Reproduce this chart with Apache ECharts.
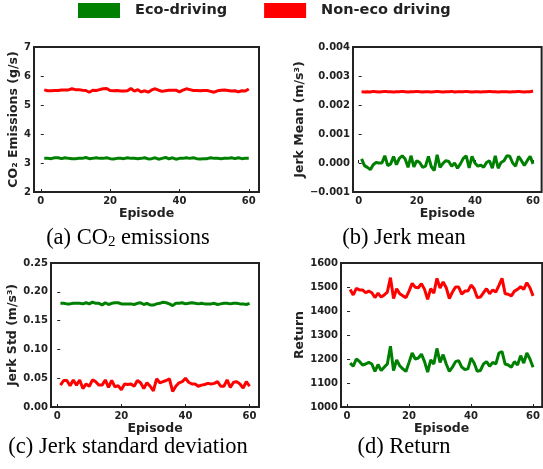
<!DOCTYPE html>
<html>
<head>
<meta charset="utf-8">
<script src="https://cdn.jsdelivr.net/npm/echarts@6/dist/echarts.min.js"></script>
<style>
  html, body { margin: 0; padding: 0; background: #fff; }
  #chart { width: 543px; height: 469px; }
</style>
</head>
<body>
<div id="chart"></div>
<script>
// series values (episodes 1..60)
var co2Eco = [3.16, 3.16, 3.15, 3.18, 3.18, 3.15, 3.18, 3.16, 3.15, 3.15,
  3.16, 3.16, 3.19, 3.15, 3.16, 3.18, 3.16, 3.16, 3.18, 3.15,
  3.14, 3.16, 3.16, 3.15, 3.18, 3.16, 3.16, 3.15, 3.16, 3.18,
  3.14, 3.15, 3.18, 3.13, 3.16, 3.19, 3.14, 3.18, 3.13, 3.16,
  3.16, 3.18, 3.16, 3.18, 3.15, 3.14, 3.15, 3.15, 3.18, 3.16,
  3.16, 3.15, 3.16, 3.16, 3.18, 3.15, 3.18, 3.15, 3.16, 3.16];
var co2NonEco = [5.52, 5.49, 5.49, 5.50, 5.50, 5.52, 5.52, 5.52, 5.56, 5.53,
  5.53, 5.51, 5.50, 5.44, 5.51, 5.50, 5.53, 5.56, 5.57, 5.50,
  5.49, 5.50, 5.48, 5.48, 5.49, 5.57, 5.48, 5.53, 5.45, 5.49,
  5.44, 5.52, 5.56, 5.51, 5.47, 5.49, 5.51, 5.51, 5.51, 5.45,
  5.51, 5.56, 5.53, 5.50, 5.50, 5.49, 5.50, 5.50, 5.47, 5.44,
  5.49, 5.51, 5.52, 5.50, 5.48, 5.49, 5.45, 5.49, 5.48, 5.55];
var jerkMeanEco = [0.00014, -0.00009, -0.00015, -0.00023, -0.00006, 0.00002, 0.0, 0.0, 0.00025, -0.00009,
  -0.00003, 0.00022, -0.00006, 0.00016, 0.00025, 0.00014, -0.00015, 0.00025, -0.00013, 0.00008,
  0.00002, -0.00015, -0.00011, 0.00023, -0.00013, -0.00026, 0.00028, -0.00015, -0.00001, 0.00008,
  0.00005, -0.00011, 0.0, -0.00018, -0.00003, 0.00016, 0.00025, -0.00017, 0.00023, 0.0,
  -0.00011, -0.00007, -0.00015, 0.00002, 0.00008, -0.00018, 0.00025, -0.00018, 0.00002, 0.00008,
  0.00025, 0.00023, 0.0, -0.00011, 0.00023, 0.00008, -0.00009, 0.00008, 0.00023, -0.00003];
var jerkMeanNonEco = [0.00246, 0.00245, 0.00246, 0.00245, 0.00247, 0.00246, 0.00245, 0.00246, 0.00247, 0.00246,
  0.00246, 0.00245, 0.00246, 0.00246, 0.00247, 0.00246, 0.00245, 0.00246, 0.00246, 0.00247,
  0.00246, 0.00245, 0.00246, 0.00246, 0.00245, 0.00246, 0.00247, 0.00246, 0.00245, 0.00246,
  0.00246, 0.00247, 0.00245, 0.00246, 0.00246, 0.00246, 0.00247, 0.00246, 0.00245, 0.00246,
  0.00246, 0.00245, 0.00246, 0.00246, 0.00247, 0.00246, 0.00246, 0.00245, 0.00246, 0.00246,
  0.00246, 0.00245, 0.00246, 0.00246, 0.00247, 0.00246, 0.00245, 0.00246, 0.00246, 0.00248];
var jerkStdEco = [0.180, 0.180, 0.179, 0.179, 0.180, 0.180, 0.180, 0.179, 0.181, 0.179,
  0.182, 0.180, 0.180, 0.177, 0.181, 0.178, 0.180, 0.181, 0.181, 0.179,
  0.179, 0.179, 0.179, 0.178, 0.180, 0.181, 0.178, 0.180, 0.177, 0.177,
  0.179, 0.180, 0.182, 0.181, 0.179, 0.176, 0.180, 0.180, 0.181, 0.179,
  0.180, 0.181, 0.180, 0.179, 0.180, 0.179, 0.179, 0.179, 0.180, 0.178,
  0.179, 0.180, 0.180, 0.179, 0.180, 0.180, 0.179, 0.179, 0.178, 0.180];
var jerkStdNonEco = [0.038, 0.046, 0.046, 0.037, 0.047, 0.038, 0.047, 0.032, 0.040, 0.036,
  0.047, 0.044, 0.038, 0.038, 0.047, 0.034, 0.046, 0.035, 0.037, 0.030,
  0.040, 0.039, 0.040, 0.036, 0.046, 0.042, 0.032, 0.042, 0.036, 0.028,
  0.049, 0.042, 0.044, 0.046, 0.049, 0.027, 0.036, 0.042, 0.044, 0.050,
  0.043, 0.040, 0.040, 0.036, 0.038, 0.039, 0.041, 0.040, 0.041, 0.044,
  0.036, 0.036, 0.047, 0.034, 0.043, 0.044, 0.040, 0.033, 0.044, 0.036];
var returnEco = [1183, 1170, 1200, 1190, 1175, 1179, 1186, 1179, 1148, 1177,
  1152, 1166, 1179, 1253, 1152, 1196, 1172, 1159, 1148, 1186,
  1225, 1200, 1204, 1220, 1189, 1145, 1196, 1179, 1244, 1186,
  1218, 1179, 1148, 1166, 1189, 1193, 1166, 1156, 1159, 1204,
  1183, 1149, 1152, 1179, 1189, 1170, 1186, 1179, 1225, 1231,
  1179, 1175, 1166, 1189, 1175, 1214, 1183, 1225, 1200, 1166];
var returnNonEco = [1490, 1467, 1494, 1488, 1488, 1476, 1483, 1476, 1456, 1474,
  1458, 1467, 1479, 1539, 1452, 1493, 1472, 1463, 1456, 1483,
  1515, 1499, 1497, 1514, 1490, 1449, 1493, 1474, 1536, 1496,
  1521, 1497, 1452, 1479, 1500, 1500, 1470, 1483, 1483, 1508,
  1493, 1456, 1458, 1476, 1493, 1472, 1488, 1479, 1507, 1536,
  1472, 1470, 1463, 1483, 1490, 1501, 1490, 1518, 1497, 1463];

var xTicks = [0, 20, 40, 60];
var seriesNames = ["Eco-driving", "Non-eco driving"];
var captions = ["(a) CO", "(b) Jerk mean", "(c) Jerk standard deviation", "(d) Return"];

var myChart = echarts.init(document.getElementById("chart"));

var sans = "DejaVu Sans";
var dark = "#222";

function pairs(arr) {
  return arr.map(function(v, i) {
    return [i + 1, v];
  });
}

// panel frames (pixels)
var grids = [
  { left: 34, top: 47, width: 225, height: 145 },
  { left: 353, top: 47, width: 189.5, height: 145 },
  { left: 51, top: 263, width: 208, height: 144 },
  { left: 341, top: 263, width: 201.5, height: 144 }
];
var xRange = [-1.95, 62.95];
var yConf = [
  { min: 2, max: 7, interval: 1, name: "CO\u2082 Emissions (g/s)", gap: 13, fmt: function(v) { return v.toFixed(0); } },
  { min: -0.001, max: 0.004, interval: 0.001, name: "Jerk Mean (m/s\u00b3)", gap: 46, fmt: function(v) { return v.toFixed(3).replace("-", "\u2212"); } },
  { min: 0, max: 0.25, interval: 0.05, name: "Jerk Std (m/s\u00b3)", gap: 31, fmt: function(v) { return v.toFixed(2); } },
  { min: 1000, max: 1600, interval: 100, name: "Return", gap: 33, fmt: function(v) { return v.toFixed(0); } }
];
var data = [
  [co2Eco, co2NonEco],
  [jerkMeanEco, jerkMeanNonEco],
  [jerkStdEco, jerkStdNonEco],
  [returnEco, returnNonEco]
];
var colors = ["#008000", "#ff0000"];

var option = {
  backgroundColor: "#fff",
  animation: false,
  legend: {
    data: seriesNames,
    icon: "rect",
    left: 78,
    top: 3,
    padding: 0,
    itemWidth: 42,
    itemHeight: 15,
    itemGap: 37,
    textStyle: {
      fontFamily: sans,
      fontWeight: "bold",
      fontSize: 14.5,
      color: dark,
      padding: [0, 0, 0, 10]
    }
  },
  grid: [],
  xAxis: [],
  yAxis: [],
  series: [],
  graphic: []
};

for (var i = 0; i < 4; i++) {
  option.grid.push({
    left: grids[i].left,
    top: grids[i].top,
    width: grids[i].width,
    height: grids[i].height,
    show: true,
    borderColor: dark,
    borderWidth: 2,
    backgroundColor: "#fff"
  });
  option.xAxis.push({
    gridIndex: i,
    type: "value",
    min: xRange[0],
    max: xRange[1],
    name: "Episode",
    nameLocation: "middle",
    nameGap: 12,
    nameTextStyle: { fontFamily: sans, fontWeight: "bold", fontSize: 12.5, color: dark, verticalAlign: "top" },
    axisLine: { show: false },
    splitLine: { show: false },
    axisTick: { inside: true, length: 3, lineStyle: { color: dark }, customValues: xTicks },
    axisLabel: { fontFamily: sans, fontWeight: "bold", fontSize: 10, color: dark, margin: 4, customValues: xTicks }
  });
  var yc = yConf[i];
  option.yAxis.push({
    gridIndex: i,
    type: "value",
    min: yc.min,
    max: yc.max,
    interval: yc.interval,
    name: yc.name,
    nameLocation: "middle",
    nameRotate: 90,
    nameGap: yc.gap,
    nameTextStyle: { fontFamily: sans, fontWeight: "bold", fontSize: 12.5, color: dark },
    axisLine: { show: false },
    splitLine: { show: false },
    axisTick: { inside: true, length: 3, lineStyle: { color: dark } },
    axisLabel: { fontFamily: sans, fontWeight: "bold", fontSize: 10, color: dark, margin: 3, formatter: yc.fmt }
  });
  for (var s = 0; s < 2; s++) {
    option.series.push({
      name: seriesNames[s],
      type: "line",
      xAxisIndex: i,
      yAxisIndex: i,
      data: pairs(data[i][s]),
      showSymbol: false,
      color: colors[s],
      lineStyle: { width: 3, color: colors[s] }
    });
  }
}

// sub-figure captions
var serif = "Liberation Serif";
var capPos = [[128, 238], [404, 238], [128, 447], [404, 447]];
for (var k = 0; k < 4; k++) {
  var txt = k === 0 ? "{a|" + captions[0] + "}{s|2}{a| emissions}" : "{a|" + captions[k] + "}";
  option.graphic.push({
    type: "text",
    x: capPos[k][0],
    y: capPos[k][1],
    style: {
      text: txt,
      align: "center",
      verticalAlign: "middle",
      rich: {
        a: { fontFamily: serif, fontSize: 22.5, color: "#000", lineHeight: 24, verticalAlign: "bottom" },
        s: { fontFamily: serif, fontSize: 15, color: "#000", lineHeight: 17, verticalAlign: "bottom" }
      }
    }
  });
}

myChart.setOption(option);
</script>
</body>
</html>
